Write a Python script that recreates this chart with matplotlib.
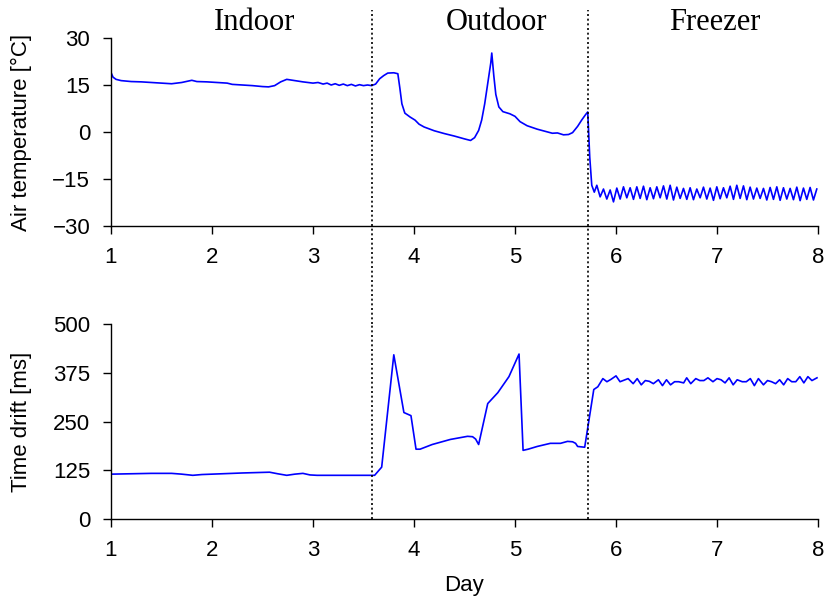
import matplotlib
matplotlib.use("Agg")
import matplotlib.pyplot as plt
import matplotlib.transforms as mtransforms

plt.rcParams['font.family'] = ['Liberation Sans', 'DejaVu Sans']

# temperature log (day, degC)
temp_day = [1.00, 1.02, 1.05, 1.10, 1.20, 1.30, 1.40, 1.50, 1.60, 1.70, 1.80, 1.85,
            1.95, 2.05, 2.15, 2.20, 2.30, 2.40, 2.50, 2.56, 2.62, 2.68, 2.74, 2.80,
            2.90, 3.00, 3.05, 3.10, 3.14, 3.18, 3.22, 3.26, 3.30, 3.34, 3.38, 3.42,
            3.46, 3.50, 3.54, 3.58,
            3.62, 3.66, 3.70, 3.74, 3.80, 3.84, 3.86, 3.88, 3.91, 3.96, 4.01, 4.05,
            4.10, 4.20, 4.30, 4.40, 4.50, 4.56, 4.60, 4.64, 4.67, 4.70, 4.73, 4.76,
            4.77, 4.79, 4.81, 4.84, 4.88, 4.95, 5.00, 5.05, 5.12, 5.22, 5.30, 5.37,
            5.42, 5.48, 5.53, 5.57, 5.62, 5.66, 5.70, 5.72,
            5.74, 5.76, 5.785,
            5.810, 5.843, 5.876, 5.909, 5.942, 5.975, 6.008, 6.041, 6.074, 6.107,
            6.140, 6.173, 6.206, 6.239, 6.272, 6.305, 6.338, 6.371, 6.404, 6.437,
            6.470, 6.503, 6.536, 6.569, 6.602, 6.635, 6.668, 6.701, 6.734, 6.767,
            6.800, 6.833, 6.866, 6.899, 6.932, 6.965, 6.998, 7.031, 7.064, 7.097,
            7.130, 7.163, 7.196, 7.229, 7.262, 7.295, 7.328, 7.361, 7.394, 7.427,
            7.460, 7.493, 7.526, 7.559, 7.592, 7.625, 7.658, 7.691, 7.724, 7.757,
            7.790, 7.823, 7.856, 7.889, 7.922, 7.955, 7.988]
temp_c = [19.0, 17.5, 16.8, 16.4, 16.1, 16.0, 15.8, 15.6, 15.4, 15.8, 16.5, 16.1,
          16.0, 15.8, 15.6, 15.2, 15.0, 14.8, 14.5, 14.4, 14.8, 16.0, 16.8, 16.5,
          16.0, 15.6, 15.8, 15.3, 15.6, 15.0, 15.4, 14.9, 15.3, 14.8, 15.2, 14.7,
          15.1, 14.8, 15.0, 14.8,
          15.3, 17.0, 18.0, 18.8, 18.9, 18.6, 14.0, 9.0, 6.0, 4.8, 3.8, 2.5,
          1.6, 0.4, -0.5, -1.3, -2.2, -2.7, -1.8, 0.5, 3.8, 9.0, 15.6, 22.0,
          25.2, 18.0, 12.0, 8.0, 6.5, 5.8, 5.0, 3.3, 2.0, 0.9, 0.2, -0.4,
          -0.3, -0.9, -0.8, -0.2, 1.8, 3.8, 5.6, 6.4,
          -8.0, -17.0, -19.2,
          -17.0, -20.7, -18.2, -21.4, -18.5, -22.3, -17.9, -21.4, -17.5, -21.0,
          -17.8, -21.5, -17.5, -21.2, -17.3, -21.6, -17.8, -21.3, -17.5, -21.0,
          -17.2, -21.4, -17.0, -21.7, -17.6, -21.2, -18.0, -21.5, -17.8, -21.6,
          -18.2, -21.0, -17.6, -21.4, -17.9, -21.8, -17.5, -21.3, -17.8, -21.0,
          -17.3, -21.5, -17.0, -21.2, -17.2, -21.6, -17.6, -21.4, -17.9, -21.2,
          -18.0, -21.7, -17.7, -21.5, -17.5, -21.8, -17.8, -21.4, -18.0, -21.6,
          -17.6, -21.9, -17.9, -21.5, -17.7, -21.7, -18.2]

# clock drift log (day, ms)
drift_day = [1.00, 1.20, 1.40, 1.60, 1.70, 1.81, 1.90, 2.10, 2.30, 2.57, 2.65, 2.74,
             2.82, 2.90, 2.97, 3.04, 3.30, 3.58,
             3.61, 3.68, 3.80, 3.90, 3.97, 4.02, 4.06, 4.18, 4.36, 4.53, 4.58, 4.61,
             4.64, 4.73, 4.83, 4.94, 5.04, 5.08, 5.13, 5.22, 5.35, 5.45, 5.52, 5.57,
             5.60, 5.62, 5.69,
             5.78, 5.82, 5.87, 5.91, 5.95, 6.00, 6.04, 6.08, 6.12, 6.17, 6.21, 6.25,
             6.29, 6.33, 6.37, 6.42, 6.46, 6.50, 6.54, 6.58, 6.62, 6.67, 6.70, 6.74,
             6.79, 6.83, 6.87, 6.91, 6.96, 7.00, 7.04, 7.08, 7.12, 7.16, 7.20, 7.25,
             7.29, 7.33, 7.37, 7.41, 7.46, 7.50, 7.54, 7.58, 7.62, 7.66, 7.70, 7.74,
             7.78, 7.82, 7.86, 7.90, 7.94, 7.99]
drift_ms = [115, 116, 117, 117, 115, 112, 114, 116, 118, 120, 116, 112,
            115, 117, 113, 112, 112, 112,
            112, 133, 421, 273, 265, 179, 179, 191, 204, 212, 211, 205,
            191, 296, 324, 365, 423, 176, 179, 186, 194, 194, 199, 198,
            194, 186, 184,
            332, 339, 360, 352, 358, 367, 352, 356, 360, 347, 360, 344,
            355, 353, 347, 357, 342, 357, 344, 352, 352, 349, 362, 347,
            360, 355, 355, 362, 352, 360, 357, 349, 362, 344, 357, 352,
            352, 360, 342, 360, 344, 355, 352, 347, 357, 344, 360, 352,
            352, 365, 349, 365, 355, 362]

regions = ['Indoor', 'Outdoor', 'Freezer']
region_x = [2.42, 4.82, 6.98]
boundaries = [3.58, 5.72]

W, H = 828, 599
fig = plt.figure(figsize=(W / 100, H / 100), dpi=100)
ax1 = fig.add_axes([111 / W, 1 - 226 / H, 707 / W, 188 / H])
ax2 = fig.add_axes([111 / W, 1 - 519 / H, 707 / W, 195 / H])

ax1.plot(temp_day, temp_c, color='#0000ff', lw=1.2)
ax2.plot(drift_day, drift_ms, color='#0000ff', lw=1.2)

ax1.set_ylim(-30, 30)
ax1.set_yticks([-30, -15, 0, 15, 30])
ax1.set_yticklabels(['\u221230', '\u221215', '0', '15', '30'])
ax2.set_ylim(0, 500)
ax2.set_yticks([0, 125, 250, 375, 500])

for ax in (ax1, ax2):
    ax.set_xlim(1, 8)
    ax.set_xticks(range(1, 9))
    ax.spines['top'].set_visible(False)
    ax.spines['right'].set_visible(False)
    ax.spines['left'].set_linewidth(1.0)
    ax.spines['bottom'].set_linewidth(1.0)
    ax.tick_params(axis='both', direction='out', length=6, width=1.0,
                   labelsize=16, pad=9)
    ax.yaxis.set_label_coords(-0.112, 0.5)

ax1.set_ylabel('Air temperature [°C]', fontsize=16)
ax2.set_ylabel('Time drift [ms]', fontsize=16)
ax2.set_xlabel('Day', fontsize=16, labelpad=10)

# dotted boundaries running through both panels
for b in boundaries:
    ax1.axvline(b, ymin=-0.52, ymax=1.15, color='black', lw=1.2,
                ls=(0, (1.2, 1.6)), clip_on=False)
    ax2.axvline(b, color='black', lw=1.2, ls=(0, (1.2, 1.6)))

trans = mtransforms.blended_transform_factory(ax1.transData, fig.transFigure)
for name, x in zip(regions, region_x):
    fig.text(x, 1 - 30 / H, name, transform=trans, ha='center', va='baseline',
             fontsize=22, family=['Liberation Serif', 'DejaVu Serif'])

fig.savefig('out.png', dpi=100)
